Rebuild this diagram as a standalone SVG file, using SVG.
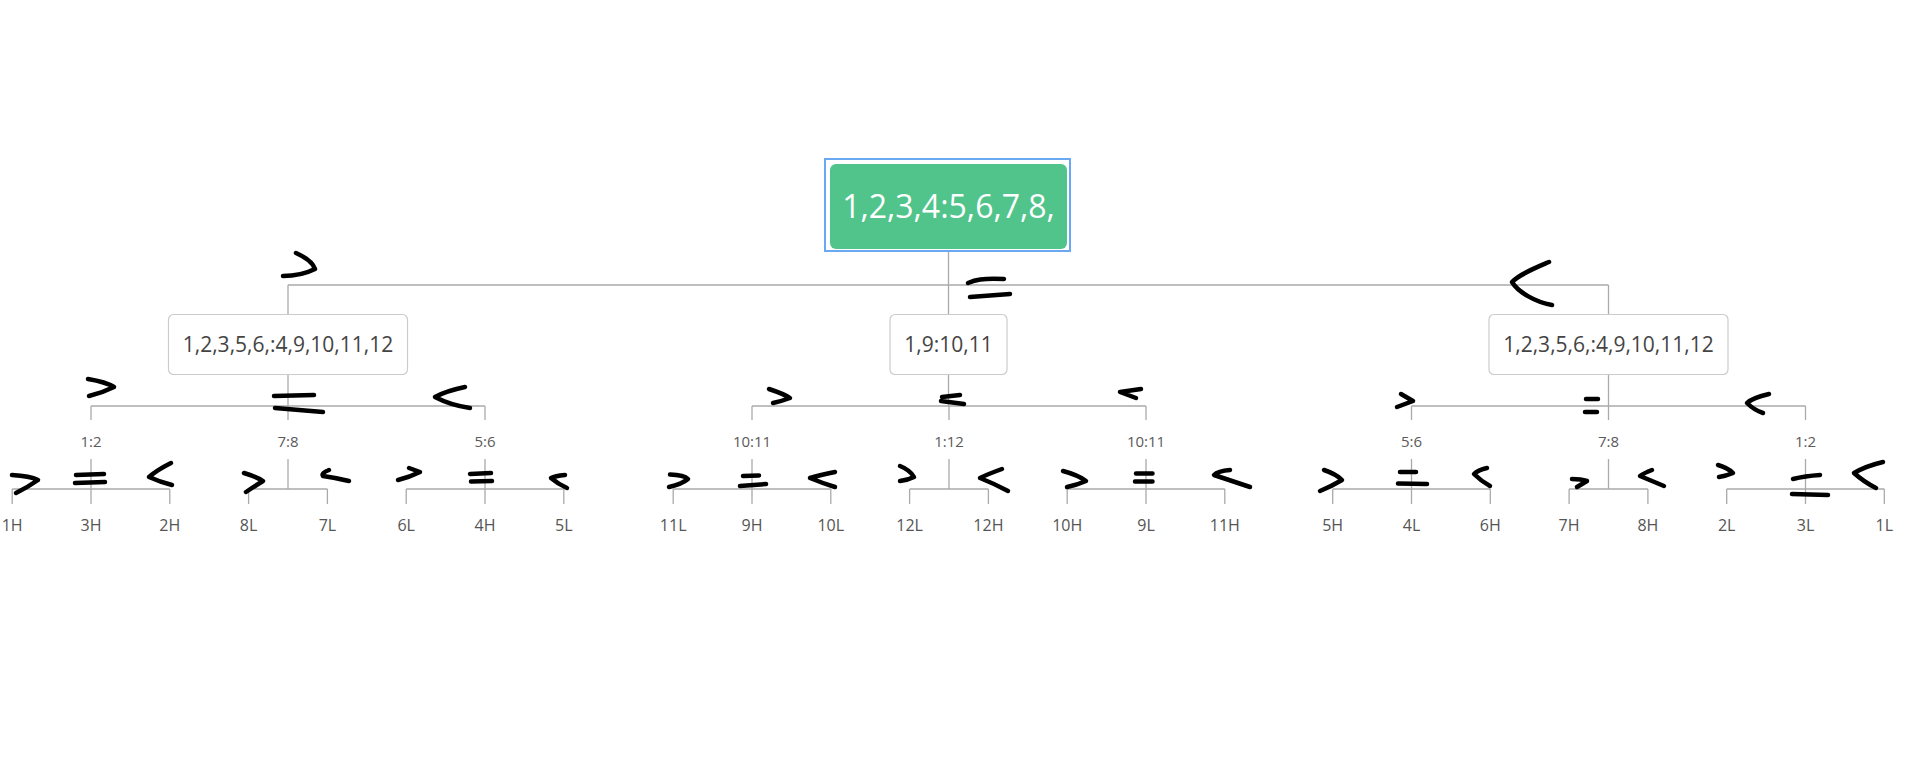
<svg xmlns="http://www.w3.org/2000/svg" width="1908" height="776" viewBox="0 0 1908 776">
<style>
.ln{fill:none;stroke:#aaaaaa;stroke-width:1.3}
.box{fill:#ffffff;stroke:#cccccc;stroke-width:1.2}
.t1{font-family:"Open Sans","Noto Sans",sans-serif;font-size:21px;fill:#444444;text-anchor:middle}
.t2{font-family:"Open Sans","Noto Sans",sans-serif;font-size:15px;fill:#5a5a5a;text-anchor:middle}
.t3{font-family:"Open Sans","Noto Sans",sans-serif;font-size:16px;fill:#555555;text-anchor:middle}
.sc{fill:none;stroke:#000000;stroke-width:4.5;stroke-linecap:round;stroke-linejoin:round}
</style>
<rect width="1908" height="776" fill="#ffffff"/>
<g id="connectors">
<path class="ln" d="M948.5,250V285M288,285H1608.5M288,285V314.5M948.5,285V314.5M1608.5,285V314.5"/>
<path class="ln" d="M288,374.5V406M91,406H485M91,406V420M288,406V420M485,406V420"/>
<path class="ln" d="M948.5,374.5V406M752,406H1146M752,406V420M949,406V420M1146,406V420"/>
<path class="ln" d="M1608.5,374.5V406M1411.5,406H1805.5M1411.5,406V420M1608.5,406V420M1805.5,406V420"/>
<path class="ln" d="M91,459V489M12.2,489H169.8M12.2,489V504M91,489V504M169.8,489V504"/>
<path class="ln" d="M288,459V489M248.6,489H327.4M248.6,489V504M327.4,489V504"/>
<path class="ln" d="M485,459V489M406.2,489H563.8M406.2,489V504M485,489V504M563.8,489V504"/>
<path class="ln" d="M752,459V489M673.2,489H830.8M673.2,489V504M752,489V504M830.8,489V504"/>
<path class="ln" d="M949,459V489M909.6,489H988.4M909.6,489V504M988.4,489V504"/>
<path class="ln" d="M1146,459V489M1067.2,489H1224.8M1067.2,489V504M1146,489V504M1224.8,489V504"/>
<path class="ln" d="M1411.5,459V489M1332.7,489H1490.3M1332.7,489V504M1411.5,489V504M1490.3,489V504"/>
<path class="ln" d="M1608.5,459V489M1569.1,489H1647.9M1569.1,489V504M1647.9,489V504"/>
<path class="ln" d="M1805.5,459V489M1726.7,489H1884.3M1726.7,489V504M1805.5,489V504M1884.3,489V504"/>
</g>
<g id="root">
<rect x="825" y="159" width="245" height="92" fill="none" stroke="#6aa8f2" stroke-width="2"/>
<rect x="830" y="164" width="237" height="85" rx="6" fill="#51c48c"/>
<text x="948.5" y="218" font-family="Open Sans,Noto Sans,sans-serif" font-size="32" fill="#ffffff" text-anchor="middle">1,2,3,4:5,6,7,8,</text>
</g>
<g id="n-left"><rect class="box" x="168.5" y="314.5" width="239" height="60" rx="5"/><text class="t1" x="288" y="352">1,2,3,5,6,:4,9,10,11,12</text></g>
<g id="n-mid"><rect class="box" x="890" y="314.5" width="117" height="60" rx="5"/><text class="t1" x="948.5" y="352">1,9:10,11</text></g>
<g id="n-right"><rect class="box" x="1489" y="314.5" width="239" height="60" rx="5"/><text class="t1" x="1608.5" y="352">1,2,3,5,6,:4,9,10,11,12</text></g>
<g id="l2-a"><text class="t2" x="91" y="447">1:2</text></g>
<g id="l2-b"><text class="t2" x="288" y="447">7:8</text></g>
<g id="l2-c"><text class="t2" x="485" y="447">5:6</text></g>
<g id="l2-d"><text class="t2" x="752" y="447">10:11</text></g>
<g id="l2-e"><text class="t2" x="949" y="447">1:12</text></g>
<g id="l2-f"><text class="t2" x="1146" y="447">10:11</text></g>
<g id="l2-g"><text class="t2" x="1411.5" y="447">5:6</text></g>
<g id="l2-h"><text class="t2" x="1608.5" y="447">7:8</text></g>
<g id="l2-i"><text class="t2" x="1805.5" y="447">1:2</text></g>
<g id="leaves">
<g id="lf-1H"><text class="t3" x="12.2" y="531">1H</text></g>
<g id="lf-3H"><text class="t3" x="91" y="531">3H</text></g>
<g id="lf-2H"><text class="t3" x="169.8" y="531">2H</text></g>
<g id="lf-8L"><text class="t3" x="248.6" y="531">8L</text></g>
<g id="lf-7L"><text class="t3" x="327.4" y="531">7L</text></g>
<g id="lf-6L"><text class="t3" x="406.2" y="531">6L</text></g>
<g id="lf-4H"><text class="t3" x="485" y="531">4H</text></g>
<g id="lf-5L"><text class="t3" x="563.8" y="531">5L</text></g>
<g id="lf-11L"><text class="t3" x="673.2" y="531">11L</text></g>
<g id="lf-9H"><text class="t3" x="752" y="531">9H</text></g>
<g id="lf-10L"><text class="t3" x="830.8" y="531">10L</text></g>
<g id="lf-12L"><text class="t3" x="909.6" y="531">12L</text></g>
<g id="lf-12H"><text class="t3" x="988.4" y="531">12H</text></g>
<g id="lf-10H"><text class="t3" x="1067.2" y="531">10H</text></g>
<g id="lf-9L"><text class="t3" x="1146" y="531">9L</text></g>
<g id="lf-11H"><text class="t3" x="1224.8" y="531">11H</text></g>
<g id="lf-5H"><text class="t3" x="1332.7" y="531">5H</text></g>
<g id="lf-4L"><text class="t3" x="1411.5" y="531">4L</text></g>
<g id="lf-6H"><text class="t3" x="1490.3" y="531">6H</text></g>
<g id="lf-7H"><text class="t3" x="1569.1" y="531">7H</text></g>
<g id="lf-8H"><text class="t3" x="1647.9" y="531">8H</text></g>
<g id="lf-2L"><text class="t3" x="1726.7" y="531">2L</text></g>
<g id="lf-3L"><text class="t3" x="1805.5" y="531">3L</text></g>
<g id="lf-1L"><text class="t3" x="1884.3" y="531">1L</text></g>
</g>
<g id="scribbles">
<path class="sc" d="M296,253C305,257 313,263 315,269C305,274 294,276 283,276"/>
<path class="sc" d="M968,283C975,280 982,278 1004,279M970,297L1010,294"/>
<path class="sc" d="M1549,262C1535,268 1520,274 1512,282C1518,292 1535,302 1552,305"/>
<path class="sc" d="M88,379Q106,382 114,387Q102,393 89,396"/>
<path class="sc" d="M274,396L314,395M275,408L323,412"/>
<path class="sc" d="M465,387Q446,391 435,397Q450,405 470,408"/>
<path class="sc" d="M769,389Q784,394 790,398Q782,401 773,403"/>
<path class="sc" d="M942,397L960,395M941,401L964,404"/>
<path class="sc" d="M1141,389L1120,392L1136,398"/>
<path class="sc" d="M1401,394L1413,401L1397,407"/>
<path class="sc" d="M1586,399L1598,399M1585,412L1597,412"/>
<path class="sc" d="M1769,394Q1752,398 1747,403Q1754,410 1763,413"/>
<path class="sc" d="M12,475Q30,476 38,480Q28,487 16,493"/>
<path class="sc" d="M76,475L104,474M75,483L105,482"/>
<path class="sc" d="M171,463Q157,470 149,477Q160,482 172,485"/>
<path class="sc" d="M244,473Q257,477 263,481Q255,486 246,492"/>
<path class="sc" d="M329,470Q321,473 323,476Q337,478 349,481"/>
<path class="sc" d="M409,468L420,472Q410,477 398,480"/>
<path class="sc" d="M470,474L491,473M471,481.5L492,481"/>
<path class="sc" d="M565,475Q555,476 551,478Q558,484 567,488"/>
<path class="sc" d="M670,474.5Q684,475 688,479Q682,484 669,487"/>
<path class="sc" d="M743,476L759,475.5M740,486L766,484"/>
<path class="sc" d="M835,472Q820,475 810,478Q822,483 835,487"/>
<path class="sc" d="M900,466Q910,470 914,477Q908,480 900,481"/>
<path class="sc" d="M1002,469Q988,474 980,478Q995,484 1008,491"/>
<path class="sc" d="M1063,471Q1078,475 1086,481Q1077,485 1067,487"/>
<path class="sc" d="M1136,473.5L1152.5,473.5M1135,481.5L1152.5,481.5"/>
<path class="sc" d="M1230,470Q1218,471 1214,475Q1232,481 1250,487"/>
<path class="sc" d="M1324,470Q1336,474 1342,480Q1332,486 1320,491"/>
<path class="sc" d="M1400,472L1416,472M1398,483.5L1427,484"/>
<path class="sc" d="M1487,468Q1478,470 1474,474Q1481,481 1490,486"/>
<path class="sc" d="M1572,479Q1581,479 1587,481Q1582,484 1577,487"/>
<path class="sc" d="M1652,470Q1644,473 1640,476Q1652,481 1664,486"/>
<path class="sc" d="M1718,465Q1728,468 1733,473Q1726,476 1719,477"/>
<path class="sc" d="M1793,479Q1805,476 1820,475M1792,494L1828,495"/>
<path class="sc" d="M1883,462Q1866,466 1854,473Q1864,482 1876,488"/>
</g>
</svg>
